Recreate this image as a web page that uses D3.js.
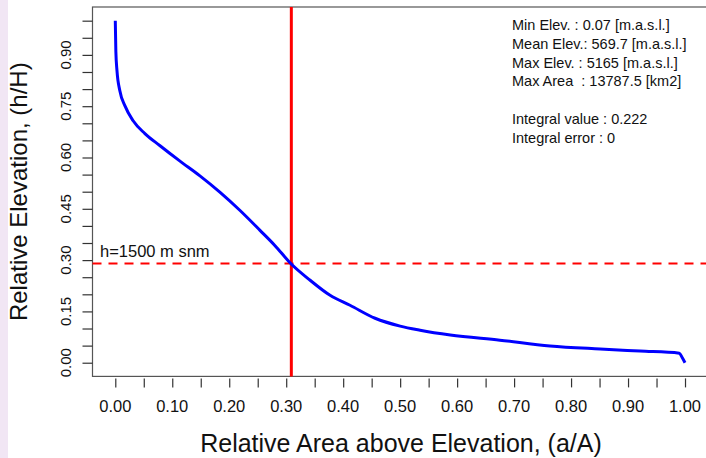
<!DOCTYPE html>
<html>
<head>
<meta charset="utf-8">
<script src="https://cdn.jsdelivr.net/npm/d3@7"></script>
<style>
  html, body { margin: 0; padding: 0; background: #fff; }
  svg text { font-family: "Liberation Sans", Arial, Helvetica, sans-serif; fill: #111; }
</style>
</head>
<body>
<svg id="chart" width="706" height="458"></svg>
<script>
// hypsometric curve
const relArea = [0.000, 0.001, 0.003, 0.008, 0.017, 0.031, 0.052, 0.078, 0.113, 0.148, 0.184, 0.219, 0.254, 0.280, 0.308, 0.342, 0.377, 0.412, 0.456, 0.500, 0.535, 0.588, 0.675, 0.763, 0.851, 0.921, 0.990, 0.995, 1.000];
const relElev = [1.000, 0.910, 0.853, 0.795, 0.751, 0.708, 0.670, 0.635, 0.590, 0.547, 0.498, 0.445, 0.387, 0.343, 0.290, 0.241, 0.197, 0.168, 0.130, 0.107, 0.095, 0.081, 0.066, 0.049, 0.040, 0.034, 0.028, 0.015, 0.000];

const xTickValues = d3.range(0, 1.0001, 0.05);
const xTickLabels = ['0.00', '0.10', '0.20', '0.30', '0.40', '0.50', '0.60', '0.70', '0.80', '0.90', '1.00'];
const yTickValues = d3.range(0, 1.0001, 0.05);
const yTickLabels = ['0.00', '0.15', '0.30', '0.45', '0.60', '0.75', '0.90'];

const refElev = 0.2904;   // 1500 / 5165
const refArea = 0.309;
const refLabel = 'h=1500 m snm';

const infoLines = [
  'Min Elev. : 0.07 [m.a.s.l.]',
  'Mean Elev.: 569.7 [m.a.s.l.]',
  'Max Elev. : 5165 [m.a.s.l.]',
  'Max Area  : 13787.5 [km2]',
  '',
  'Integral value : 0.222',
  'Integral error : 0'
];

const svg = d3.select('#chart');

// lavender strip on the left edge
svg.append('rect')
  .attr('x', 0).attr('y', 0)
  .attr('width', 8).attr('height', 458)
  .attr('fill', '#f1e6f4');

// R style: 4% padding around data range
const x = d3.scaleLinear().domain([-0.04, 1.04]).range([92.5, 707.8]);
const y = d3.scaleLinear().domain([-0.04, 1.04]).range([376.4, 7]);

// plot box
svg.append('rect')
  .attr('x', x(-0.04)).attr('y', y(1.04))
  .attr('width', x(1.04) - x(-0.04))
  .attr('height', y(-0.04) - y(1.04))
  .attr('fill', 'none')
  .attr('stroke', '#555')
  .attr('stroke-width', 1.2);

// x axis (ticks only, offset below the box)
const xAxis = svg.append('g')
  .attr('transform', `translate(0,${y(-0.04) + 2})`)
  .call(d3.axisBottom(x).tickValues(xTickValues).tickSize(9).tickFormat(''));
xAxis.select('.domain').remove();
xAxis.selectAll('line').attr('stroke', '#333').attr('stroke-width', 1.2);

svg.append('g')
  .selectAll('text')
  .data(xTickLabels)
  .join('text')
  .attr('x', d => x(+d))
  .attr('y', 412)
  .attr('text-anchor', 'middle')
  .attr('font-size', 16.5)
  .text(d => d);

// y axis
const yAxis = svg.append('g')
  .attr('transform', `translate(${x(-0.04)},0)`)
  .call(d3.axisLeft(y).tickValues(yTickValues).tickSize(10).tickFormat(''));
yAxis.select('.domain').remove();
yAxis.selectAll('line').attr('stroke', '#333').attr('stroke-width', 1.2);

svg.append('g')
  .selectAll('text')
  .data(yTickLabels)
  .join('text')
  .attr('transform', d => `translate(71,${y(+d)}) rotate(-90)`)
  .attr('text-anchor', 'middle')
  .attr('font-size', 15)
  .text(d => d);

// axis titles
svg.append('text')
  .attr('x', 401).attr('y', 452)
  .attr('text-anchor', 'middle')
  .attr('font-size', 25)
  .text('Relative Area above Elevation, (a/A)');

svg.append('text')
  .attr('transform', `translate(27,${(y(-0.04) + y(1.04)) / 2}) rotate(-90)`)
  .attr('text-anchor', 'middle')
  .attr('font-size', 24)
  .text('Relative Elevation, (h/H)');

// reference lines
svg.append('line')
  .attr('x1', x(-0.04)).attr('x2', x(1.04))
  .attr('y1', y(refElev)).attr('y2', y(refElev))
  .attr('stroke', '#f00')
  .attr('stroke-width', 2)
  .attr('stroke-dasharray', '9,7');

svg.append('line')
  .attr('x1', x(refArea)).attr('x2', x(refArea))
  .attr('y1', y(1.04)).attr('y2', y(-0.04))
  .attr('stroke', '#f00')
  .attr('stroke-width', 3);

svg.append('text')
  .attr('x', 100).attr('y', y(refElev) - 6)
  .attr('font-size', 16.5)
  .text(refLabel);

// hypsometric curve
const curve = relArea.map((a, i) => [a, relElev[i]]);
svg.append('path')
  .datum(curve)
  .attr('fill', 'none')
  .attr('stroke', '#0000ff')
  .attr('stroke-width', 3)
  .attr('stroke-linejoin', 'round')
  .attr('d', d3.line().x(d => x(d[0])).y(d => y(d[1])).curve(d3.curveMonotoneX));

// statistics block
svg.append('g')
  .selectAll('text')
  .data(infoLines)
  .join('text')
  .attr('x', 512)
  .attr('y', (d, i) => 30 + i * 18.8)
  .attr('font-size', 14.5)
  .attr('xml:space', 'preserve')
  .style('white-space', 'pre')
  .text(d => d);
</script>
</body>
</html>
